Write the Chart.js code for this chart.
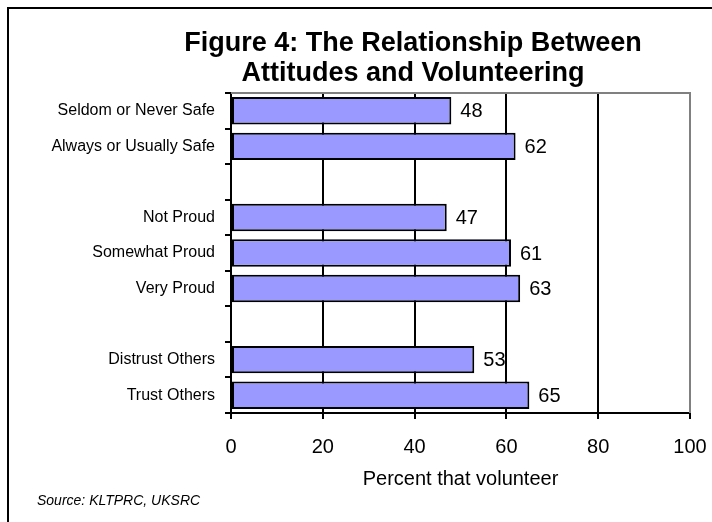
<!DOCTYPE html>
<html>
<head>
<meta charset="utf-8">
<script src="https://cdn.jsdelivr.net/npm/chart.js@4.4.1/dist/chart.umd.min.js"></script>
<style>
  html, body { margin: 0; padding: 0; background: #fff; }
  #wrap { width: 712px; height: 522px; position: relative; }
</style>
</head>
<body>
<div id="wrap"><canvas id="myBarChart" width="712" height="522"></canvas></div>
<script>
// categories top to bottom, blanks are the gaps between groups
var categories = ['Seldom or Never Safe', 'Always or Usually Safe', '',
  'Not Proud', 'Somewhat Proud', 'Very Proud', '',
  'Distrust Others', 'Trust Others'];
var volunteerPct = [48, 62, null, 47, 61, 63, null, 53, 65];
var xTicks = [0, 20, 40, 60, 80, 100];

var titleLines = ['Figure 4: The Relationship Between', 'Attitudes and Volunteering'];
var sourceText = 'Source: KLTPRC, UKSRC';

var FONT = "'Liberation Sans', Arial, sans-serif";

// frame, title, source note, value labels
var extras = {
  id: 'extras',
  afterDraw: function(chart) {
    var ctx = chart.ctx;
    var area = chart.chartArea;
    ctx.save();
    // outer frame (only left and top visible)
    ctx.strokeStyle = '#000';
    ctx.lineWidth = 2;
    ctx.beginPath();
    ctx.moveTo(8, 530);
    ctx.lineTo(8, 8);
    ctx.lineTo(720, 8);
    ctx.stroke();

    // grey plot border top and right
    ctx.strokeStyle = '#808080';
    ctx.beginPath();
    ctx.moveTo(area.left, area.top);
    ctx.lineTo(area.right, area.top);
    ctx.lineTo(area.right, area.bottom);
    ctx.stroke();

    // title
    ctx.fillStyle = '#000';
    ctx.font = 'bold 27px ' + FONT;
    ctx.textAlign = 'center';
    ctx.textBaseline = 'middle';
    ctx.fillText(titleLines[0], 413, 44);
    ctx.fillText(titleLines[1], 413, 74);

    // source
    ctx.font = 'italic 14px ' + FONT;
    ctx.textAlign = 'left';
    ctx.fillText(sourceText, 37, 501);

    // value labels
    ctx.font = '20px ' + FONT;
    var meta = chart.getDatasetMeta(0);
    meta.data.forEach(function(bar, i) {
      var v = volunteerPct[i];
      if (v === null) return;
      ctx.fillText(String(v), bar.x + 9, bar.y + 1);
    });
    ctx.restore();
  }
};

var ctx = document.getElementById('myBarChart').getContext('2d');
var myBarChart = new Chart(ctx, {
  type: 'bar',
  data: {
    labels: categories,
    datasets: [{
      data: volunteerPct,
      backgroundColor: '#9999FF',
      borderColor: '#000',
      borderWidth: 2,
      borderSkipped: false,
      categoryPercentage: 1,
      barPercentage: 0.77
    }]
  },
  options: {
    indexAxis: 'y',
    responsive: false,
    animation: false,
    layout: { padding: { top: 93, right: 22, bottom: 31, left: 0 } },
    plugins: {
      legend: { display: false },
      tooltip: { enabled: false }
    },
    scales: {
      x: {
        min: 0,
        max: 100,
        afterBuildTicks: function(scale) {
          scale.ticks = xTicks.map(function(v) { return { value: v }; });
        },
        afterFit: function(scale) {
          scale.height = 78;
          scale.paddingLeft = 0;
          scale.paddingRight = 0;
        },
        border: { display: true, color: '#000', width: 2 },
        grid: {
          color: function(c) { return c.tick && c.tick.value === 100 ? 'rgba(0,0,0,0)' : '#000'; },
          lineWidth: 2,
          drawTicks: true,
          tickLength: 6,
          tickColor: '#000'
        },
        ticks: {
          color: '#000',
          font: { family: FONT, size: 20 },
          padding: 16,
          maxRotation: 0
        },
        title: {
          display: true,
          text: 'Percent that volunteer',
          color: '#000',
          font: { family: FONT, size: 20 },
          padding: 0
        }
      },
      y: {
        afterFit: function(scale) { scale.width = 231; },
        border: { display: true, color: '#000', width: 2 },
        grid: {
          drawOnChartArea: false,
          drawTicks: true,
          tickLength: 6,
          color: '#000',
          lineWidth: 2
        },
        ticks: {
          color: '#000',
          font: { family: FONT, size: 16 },
          padding: 10,
          autoSkip: false
        }
      }
    }
  },
  plugins: [extras]
});
</script>
</body>
</html>
